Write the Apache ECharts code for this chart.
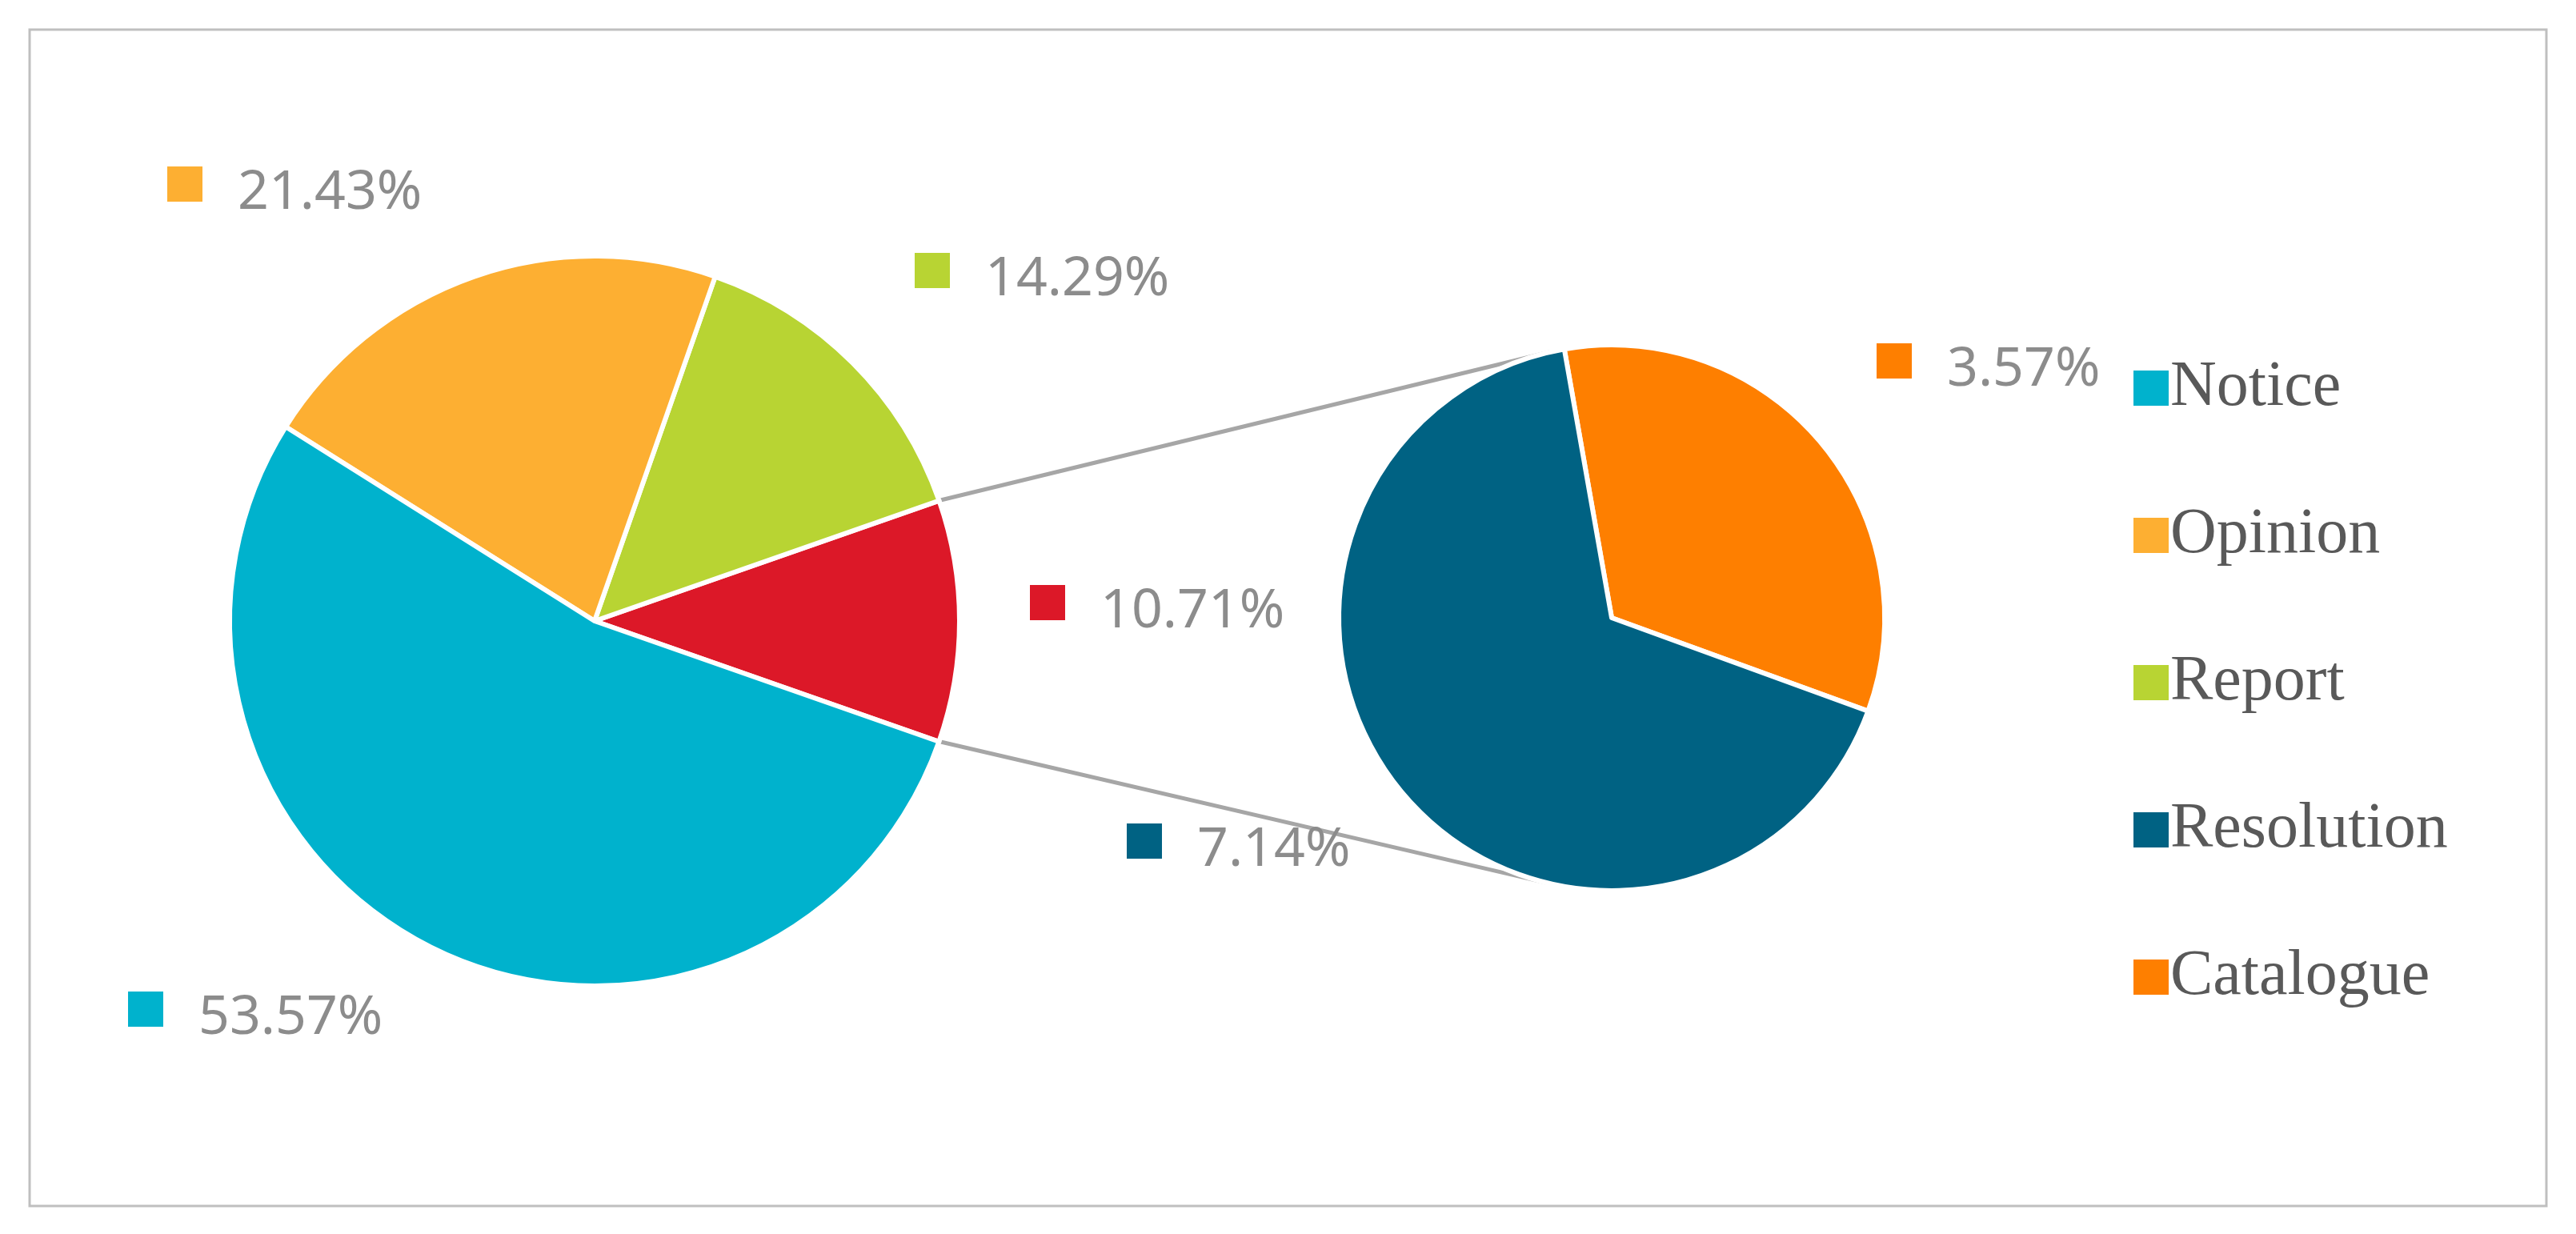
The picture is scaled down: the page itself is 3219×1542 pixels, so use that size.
<!DOCTYPE html>
<html>
<head>
<meta charset="utf-8">
<script src="https://cdn.jsdelivr.net/npm/echarts@6/dist/echarts.min.js"></script>
<style>
html,body{margin:0;padding:0;background:#fff}
#main{width:3219px;height:1542px}
</style>
</head>
<body>
<div id="main"></div>
<script>
// main pie
var mainNames = ['Other', 'Report', 'Opinion', 'Notice'];
var mainValues = [10.71, 14.29, 21.43, 53.57];
var mainColors = ['#DC1828', '#B8D433', '#FDAF32', '#00B2CD'];
// secondary pie (breakdown of Other)
var subNames = ['Catalogue', 'Resolution'];
var subValues = [3.57, 7.14];
var subColors = ['#FE7F00', '#006283'];
var legendNames = ['Notice', 'Opinion', 'Report', 'Resolution', 'Catalogue'];

// label positions (left edge of square, vertical centre)
var mainLabelPos = [[1287, 765], [1143, 350], [209, 242], [160, 1273]];
var subLabelPos = [[2345, 463], [1408, 1063]];

var mainCenter = [743, 776], mainR = 456;
var subCenter = [2014, 772], subR = 341;

var chart = echarts.init(document.getElementById('main'));

function labelCfg(colors) {
	return {
		show: true,
		formatter: function (p) { return '{s' + p.dataIndex + '|}{v|' + p.value.toFixed(2) + '%}'; },
		rich: (function () {
			var r = {v: {fontFamily: 'Noto Sans', fontSize: 68, color: '#8c8c8c', padding: [0, 0, 0, 44]}};
			for (var i = 0; i < colors.length; i++) {
				r['s' + i] = {width: 44, height: 44, backgroundColor: colors[i], verticalAlign: 'top'};
			}
			return r;
		})()
	};
}

var legendData = legendNames.map(function (n) { return {name: n}; });

chart.setOption({
	animation: false,
	legend: {
		data: legendData,
		orient: 'vertical',
		left: 2659,
		top: 440,
		itemWidth: 46,
		itemHeight: 46,
		itemGap: 104,
		icon: 'rect',
		textStyle: {fontFamily: 'Liberation Serif', fontSize: 80, color: '#595959', padding: [0, 0, 0, -4]}
	},
	color: ['#00B2CD', '#FDAF32', '#B8D433', '#006283', '#FE7F00'],
	series: [
		{
			type: 'pie',
			center: mainCenter,
			radius: mainR,
			startAngle: -19.3,
			clockwise: false,
			data: mainNames.map(function (n, i) {
				return {name: n, value: mainValues[i], itemStyle: {color: mainColors[i]}};
			}),
			itemStyle: {borderColor: '#fff', borderWidth: 6},
			label: labelCfg(mainColors),
			labelLine: {show: false},
			labelLayout: function (p) {
				var pos = mainLabelPos[p.dataIndex];
				return {x: pos[0], y: pos[1], align: 'left', verticalAlign: 'middle'};
			}
		},
		{
			type: 'pie',
			center: subCenter,
			radius: subR,
			startAngle: 100,
			clockwise: true,
			data: subNames.map(function (n, i) {
				return {name: n, value: subValues[i], itemStyle: {color: subColors[i]}};
			}),
			itemStyle: {borderColor: '#fff', borderWidth: 6},
			label: labelCfg(subColors),
			labelLine: {show: false},
			labelLayout: function (p) {
				var pos = subLabelPos[p.dataIndex];
				return {x: pos[0], y: pos[1], align: 'left', verticalAlign: 'middle'};
			}
		}
	]
});

// connector lines between the two pies
function pt(c, r, deg) {
	var a = deg * Math.PI / 180;
	return [c[0] + r * Math.cos(a), c[1] - r * Math.sin(a)];
}
var half = mainValues[0] / 100 * 180;
chart.setOption({
	graphic: [
		{type: 'rect', shape: {x: 37, y: 37, width: 3145, height: 1470}, style: {fill: 'none', stroke: '#bfbfbf', lineWidth: 3}},
		{type: 'line', z: 0, shape: {x1: pt(mainCenter, mainR, half)[0], y1: pt(mainCenter, mainR, half)[1], x2: pt(subCenter, subR, 103)[0], y2: pt(subCenter, subR, 103)[1]}, style: {stroke: '#a6a6a6', lineWidth: 5}},
		{type: 'line', z: 0, shape: {x1: pt(mainCenter, mainR, -half)[0], y1: pt(mainCenter, mainR, -half)[1], x2: pt(subCenter, subR, -104)[0], y2: pt(subCenter, subR, -104)[1]}, style: {stroke: '#a6a6a6', lineWidth: 5}}
	]
});
</script>
</body>
</html>
